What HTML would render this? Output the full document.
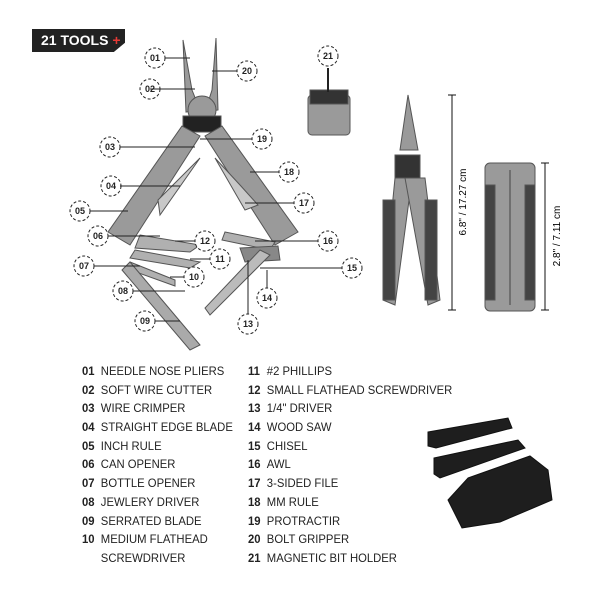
<!DOCTYPE html>
<html><head><style>
body{margin:0;width:600px;height:600px;background:#fff;position:relative;overflow:hidden;font-family:"Liberation Sans",sans-serif}
.badge{position:absolute;left:32px;top:29px;width:93px;height:23px;background:#222;color:#fff;font-weight:bold;font-size:14px;line-height:23px;padding-left:9px;box-sizing:border-box;clip-path:polygon(0 0,100% 0,100% 60%,88% 100%,0 100%)}
.badge span{color:#e53935}
.list{position:absolute;font-size:12px;color:#222;transform:scaleX(.94);transform-origin:left top;white-space:nowrap}
.list div{height:18.7px;line-height:18.7px}
.list b{display:inline-block;width:20px}
</style></head><body>
<div class="badge">21 TOOLS <span>+</span></div>
<svg width="600" height="600" style="position:absolute;left:0;top:0">
<g fill="#9a9a9a" stroke="#555" stroke-width="1">
<polygon points="183,40 192,90 200,110 186,112"/>
<polygon points="216,38 212,90 205,112 218,110"/>
<circle cx="202" cy="110" r="14"/>
<rect x="183" y="116" width="38" height="16" fill="#222"/>
<polygon points="182,126 200,136 130,245 108,232"/>
<polygon points="222,126 205,136 275,245 298,232"/>
<polygon points="158,200 200,158 160,215" fill="#c8c8c8"/>
<polygon points="215,158 240,185 258,205 245,210" fill="#c8c8c8"/>
<polygon points="140,235 200,245 190,252 135,248" fill="#b0b0b0"/>
<polygon points="135,250 200,262 190,268 130,258" fill="#b0b0b0"/>
<polygon points="130,262 175,280 175,286 125,268" fill="#b0b0b0"/>
<polygon points="130,262 200,345 190,350 122,270" fill="#aaa"/>
<polygon points="225,232 275,242 270,250 222,240" fill="#b0b0b0"/>
<polygon points="240,248 278,246 280,260 245,262" fill="#888"/>
<polygon points="270,255 210,315 205,308 260,250" fill="#bbb"/>
<rect x="308" y="95" width="42" height="40" rx="4"/>
<rect x="310" y="90" width="38" height="14" fill="#333"/>
<line x1="328" y1="68" x2="328" y2="92" stroke="#222" stroke-width="2"/>
<polygon points="408,95 400,150 418,150"/>
<polygon points="395,155 420,155 420,180 395,180" fill="#333"/>
<polygon points="395,178 412,178 395,305 383,300" />
<polygon points="405,178 425,178 440,300 428,305"/>
<rect x="383" y="200" width="12" height="100" fill="#444"/>
<rect x="425" y="200" width="12" height="100" fill="#444"/>
<rect x="485" y="163" width="50" height="148" rx="5"/>
<line x1="510" y1="170" x2="510" y2="305" stroke="#444"/>
<rect x="485" y="185" width="10" height="115" fill="#444"/>
<rect x="525" y="185" width="10" height="115" fill="#444"/>
<g fill="#1e1e1e" stroke="#111">
<polygon points="428,432 508,418 512,428 436,448 428,446"/>
<polygon points="434,458 518,440 525,448 440,478 434,474"/>
<polygon points="468,478 530,456 548,470 552,500 500,522 462,528 448,500"/>
</g>
</g>
<g stroke="#111" stroke-width="1">
<line x1="452" y1="95" x2="452" y2="310"/><line x1="448" y1="95" x2="456" y2="95"/><line x1="448" y1="310" x2="456" y2="310"/>
<line x1="545" y1="163" x2="545" y2="310"/><line x1="541" y1="163" x2="549" y2="163"/><line x1="541" y1="310" x2="549" y2="310"/>
</g>
<text x="466" y="202" font-size="10" font-family="Liberation Sans" transform="rotate(-90 466 202)" text-anchor="middle">6.8" / 17.27 cm</text>
<text x="560" y="236" font-size="10" font-family="Liberation Sans" transform="rotate(-90 560 236)" text-anchor="middle">2.8" / 7.11 cm</text>
<g font-size="9" font-family="Liberation Sans" font-weight="bold" text-anchor="middle" fill="#222">
<g fill="#fff" stroke="#222" stroke-dasharray="3 2">
<circle cx="155" cy="58" r="10"/><circle cx="247" cy="71" r="10"/><circle cx="150" cy="89" r="10"/><circle cx="110" cy="147" r="10"/><circle cx="262" cy="139" r="10"/><circle cx="289" cy="172" r="10"/><circle cx="111" cy="186" r="10"/><circle cx="304" cy="203" r="10"/><circle cx="80" cy="211" r="10"/><circle cx="98" cy="236" r="10"/><circle cx="205" cy="241" r="10"/><circle cx="328" cy="241" r="10"/><circle cx="220" cy="259" r="10"/><circle cx="84" cy="266" r="10"/><circle cx="352" cy="268" r="10"/><circle cx="194" cy="277" r="10"/><circle cx="123" cy="291" r="10"/><circle cx="267" cy="298" r="10"/><circle cx="145" cy="321" r="10"/><circle cx="248" cy="324" r="10"/><circle cx="328" cy="56" r="10"/>
</g>
<g stroke="#222" fill="none">
<path d="M165 58H190M150 89H195M120 147H195M120 186H180M90 211H128M108 236H160M195 241H175M210 259H190M94 266H140M184 277H170M133 291H185M155 321H180M237 71H212M252 139H200M279 172H250M294 203H245M318 241H255M342 268H260M267 288V270M248 314V260"/>
</g>
<text x="155" y="61">01</text><text x="247" y="74">20</text><text x="150" y="92">02</text><text x="110" y="150">03</text><text x="262" y="142">19</text><text x="289" y="175">18</text><text x="111" y="189">04</text><text x="304" y="206">17</text><text x="80" y="214">05</text><text x="98" y="239">06</text><text x="205" y="244">12</text><text x="328" y="244">16</text><text x="220" y="262">11</text><text x="84" y="269">07</text><text x="352" y="271">15</text><text x="194" y="280">10</text><text x="123" y="294">08</text><text x="267" y="301">14</text><text x="145" y="324">09</text><text x="248" y="327">13</text><text x="328" y="59">21</text>
</g>
</svg>
<div class="list" style="left:82px;top:362px">
<div><b>01</b>NEEDLE NOSE PLIERS</div><div><b>02</b>SOFT WIRE CUTTER</div><div><b>03</b>WIRE CRIMPER</div><div><b>04</b>STRAIGHT EDGE BLADE</div><div><b>05</b>INCH RULE</div><div><b>06</b>CAN OPENER</div><div><b>07</b>BOTTLE OPENER</div><div><b>08</b>JEWLERY DRIVER</div><div><b>09</b>SERRATED BLADE</div><div><b>10</b>MEDIUM FLATHEAD</div><div><b></b>SCREWDRIVER</div>
</div>
<div class="list" style="left:248px;top:362px">
<div><b>11</b>#2 PHILLIPS</div><div><b>12</b>SMALL FLATHEAD SCREWDRIVER</div><div><b>13</b>1/4" DRIVER</div><div><b>14</b>WOOD SAW</div><div><b>15</b>CHISEL</div><div><b>16</b>AWL</div><div><b>17</b>3-SIDED FILE</div><div><b>18</b>MM RULE</div><div><b>19</b>PROTRACTIR</div><div><b>20</b>BOLT GRIPPER</div><div><b>21</b>MAGNETIC BIT HOLDER</div>
</div>
</body></html>
